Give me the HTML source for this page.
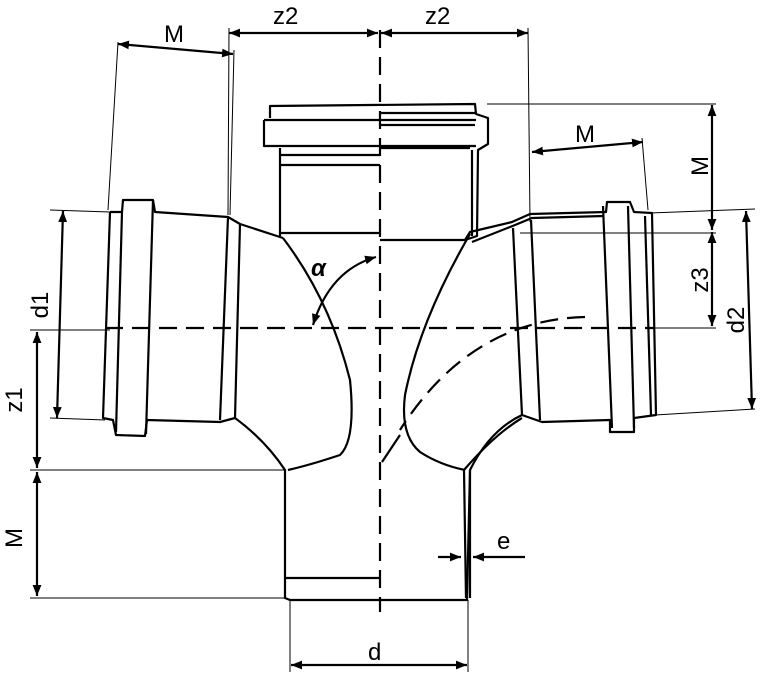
<!DOCTYPE html>
<html><head><meta charset="utf-8"><style>html,body{margin:0;padding:0;background:#fff}svg{display:block}</style></head>
<body>
<svg width="766" height="678" viewBox="0 0 766 678" xmlns="http://www.w3.org/2000/svg" font-family="Liberation Sans, sans-serif">
<defs>
<marker id="a" viewBox="0 0 10 10" refX="10" refY="5" markerWidth="11" markerHeight="11" orient="auto-start-reverse" markerUnits="userSpaceOnUse"><path d="M0,1 L10,5 L0,9 Z" fill="#000"/></marker>
</defs>
<g fill="none" stroke="#000" stroke-width="1">
<line x1="229" y1="28" x2="228" y2="215"/>
<line x1="528" y1="28" x2="530" y2="222"/>
<line x1="118" y1="42" x2="108" y2="210"/>
<line x1="234" y1="50" x2="230" y2="215"/>
<line x1="642" y1="138" x2="648" y2="210"/>
<line x1="487" y1="104" x2="716" y2="104"/>
<line x1="520" y1="233" x2="716" y2="233"/>
<line x1="650" y1="213" x2="755" y2="209"/>
<line x1="655" y1="415" x2="755" y2="409"/>
<line x1="650" y1="328" x2="716" y2="328"/>
<line x1="50" y1="210" x2="110" y2="212"/>
<line x1="50" y1="418" x2="105" y2="420"/>
<line x1="30" y1="330" x2="110" y2="330"/>
<line x1="30" y1="470" x2="285" y2="470"/>
<line x1="30" y1="598" x2="285" y2="598"/>
<line x1="290" y1="600" x2="290" y2="672"/>
<line x1="468" y1="600" x2="468" y2="672"/>
</g>
<g stroke="#000" stroke-width="2.2" fill="none" marker-start="url(#a)" marker-end="url(#a)">
<line x1="229" y1="33" x2="378" y2="33"/>
<line x1="381" y1="33" x2="528" y2="33"/>
<line x1="118" y1="44" x2="233" y2="54"/>
<line x1="532" y1="152" x2="643" y2="142"/>
<line x1="712" y1="105" x2="712" y2="230"/>
<line x1="712" y1="232" x2="712" y2="326"/>
<line x1="746" y1="211" x2="752" y2="409"/>
<line x1="63" y1="211" x2="57" y2="418"/>
<line x1="37" y1="332" x2="37" y2="468"/>
<line x1="37" y1="472" x2="37" y2="596"/>
<line x1="291" y1="665" x2="467" y2="665"/>
</g>
<g stroke="#000" stroke-width="2.2">
<line x1="438" y1="557" x2="461" y2="557" marker-end="url(#a)"/>
<line x1="525" y1="557" x2="473" y2="557" marker-end="url(#a)"/>
<path d="M376,257 Q330,270 313,325" fill="none" marker-start="url(#a)" marker-end="url(#a)"/>
</g>
<g stroke="#000" stroke-width="2.2" stroke-dasharray="18,9" fill="none">
<line x1="380" y1="30" x2="380" y2="612"/>
<line x1="105" y1="328" x2="655" y2="328"/>
<path d="M585,317 Q470,320 400,430"/>
</g>
<g fill="none" stroke="#000" stroke-width="2.2" stroke-linejoin="round">
<path d="M270,118 L270,106 L475,104 L476,114 L488,118 L488,144 L478,150 L477,236 L465,240"/>
<path d="M264,120 L476,120 M264,120 L264,146 L476,146 M280,148 L280,236 M280,155 L380,155 M280,165 L380,165 M280,233 L380,233 M380,240 L465,240 M380,113 L475,113 M380,125 L475,125 M380,148 L470,148 M472,150 L472,236"/>
<path d="M110,212 L122,212 L123,200 L153,200 L155,212 L228,217 L240,224 L283,238"/>
<path d="M110,212 L103,418 L113,420 L116,435 L145,436 L147,420 L220,422 L235,418"/>
<path d="M122,212 L116,432 M153,200 L146,434 M228,217 L220,420 M240,224 L235,418"/>
<path d="M283,238 Q330,300 350,380 Q356,440 340,455 Q310,465 288,470"/>
<path d="M235,418 Q265,440 285,470 L285,598 L290,600 L467,600 L470,470"/>
<path d="M285,578 L380,578"/>
<path d="M465,240 L470,232 L512,222 L530,214 L606,212 L607,202 L630,202 L634,212 L652,213 L656,415 L634,418 L634,432 L610,432 L610,420 L542,422 L522,415 Q490,430 470,470 L470,598"/>
<path d="M472,242 L515,225 L532,218 L604,216 M522,418 Q495,434 464,470 M464,470 L466,598"/>
<path d="M513,228 L522,415 M531,220 L540,420 M603,206 L612,428 M628,206 L634,428 M645,216 L651,415"/>
<path d="M470,234 Q420,320 405,395 Q400,435 420,452 Q440,465 465,470"/>
<path d="M400,435 L382,462"/>
</g>
<g font-size="24" fill="#000">
<text x="273" y="24">z2</text>
<text x="425" y="24">z2</text>
<text x="164" y="42">M</text>
<text x="575" y="142">M</text>
<text x="368" y="660">d</text>
<text x="497" y="549">e</text>
<text x="311" y="276" font-style="italic" font-weight="bold">α</text>
<text transform="translate(708,166) rotate(-90)" text-anchor="middle">M</text>
<text transform="translate(708,280) rotate(-90)" text-anchor="middle">z3</text>
<text transform="translate(744,320) rotate(-90)" text-anchor="middle">d2</text>
<text transform="translate(48,305) rotate(-90)" text-anchor="middle">d1</text>
<text transform="translate(22,400) rotate(-90)" text-anchor="middle">z1</text>
<text transform="translate(22,538) rotate(-90)" text-anchor="middle">M</text>
</g>
</svg>
</body></html>
